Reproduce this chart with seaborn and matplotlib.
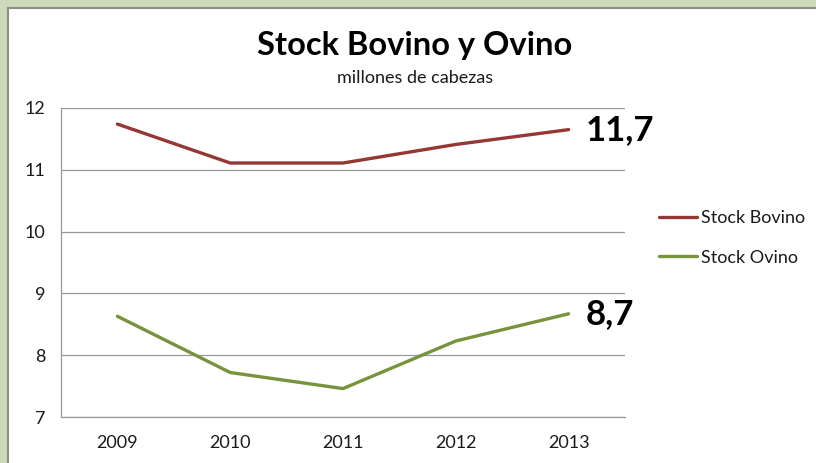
import pandas as pd
import seaborn as sns
import matplotlib.pyplot as plt
from matplotlib.patches import Rectangle

years = ['2009', '2010', '2011', '2012', '2013']
bovino = [11.74, 11.11, 11.11, 11.41, 11.65]
ovino = [8.63, 7.72, 7.46, 8.23, 8.67]
series = ['Stock Bovino', 'Stock Ovino']
colors = ['#953735', '#77933C']
end_labels = ['11,7', '8,7']

df = pd.DataFrame({
    'year': years * 2,
    'value': bovino + ovino,
    'serie': [series[0]] * len(years) + [series[1]] * len(years),
})

sns.set_style('white')
plt.rcParams['font.family'] = ['Lato', 'DejaVu Sans']

fig = plt.figure(figsize=(8.16, 4.63), dpi=100, facecolor='#cdd9b8')
# white chart frame over the green background
fig.patches.append(Rectangle((8 / 816, -0.05), 1.1, 1 - 8 / 463 + 0.05,
                             transform=fig.transFigure, facecolor='white',
                             edgecolor='#8c8c8c', linewidth=1.5, zorder=-10))

ax = fig.add_axes([61 / 816, 46 / 463, 564 / 816, 309 / 463])
ax.set_zorder(5)
ax.set_facecolor('none')
sns.lineplot(data=df, x='year', y='value', hue='serie', palette=colors,
             linewidth=2.4, ax=ax, legend=False, sort=False)

ax.set_ylim(7, 12)
ax.set_xlim(-0.5, 4.5)
ax.set_yticks(range(7, 13))
ax.grid(axis='y', color='#9a9a9a', linewidth=0.9)
ax.set_axisbelow(True)
ax.set_xlabel('')
ax.set_ylabel('')
for s in ['top', 'right']:
    ax.spines[s].set_visible(False)
for s in ['left', 'bottom']:
    ax.spines[s].set_color('#9a9a9a')
    ax.spines[s].set_linewidth(0.9)

ax.set_xticks([i - 0.5 for i in range(6)], minor=True)
ax.tick_params(axis='x', which='major', length=0, pad=13, labelsize=13, colors='#1a1a1a')
ax.tick_params(axis='x', which='minor', length=8, color='#9a9a9a', width=0.9, direction='out')
ax.tick_params(axis='y', length=5, color='#9a9a9a', width=0.9, direction='out',
               labelsize=13, colors='#1a1a1a', pad=6)

for vals, lab in zip([bovino, ovino], end_labels):
    ax.annotate(lab, xy=(4, vals[-1]), xytext=(12, 0), textcoords='offset points',
                ha='left', va='center', fontsize=25, fontweight='bold', color='black',
                annotation_clip=False)

handles = [plt.Line2D([], [], color=c, linewidth=2.4) for c in colors]
fig.legend(handles, series, loc='center left', bbox_to_anchor=(643 / 816, 1 - 238 / 463),
           frameon=False, fontsize=13, handlelength=2.1, handletextpad=0.2,
           labelspacing=1.3, labelcolor='#1a1a1a')

fig.text(415 / 816, 1 - 46 / 463, 'Stock Bovino y Ovino', ha='center', va='center',
         fontsize=23.5, fontweight='bold', color='black')
fig.text(415 / 816, 1 - 78 / 463, 'millones de cabezas', ha='center', va='center',
         fontsize=13, color='#1a1a1a')

fig.savefig('out.png', dpi=100, facecolor=fig.get_facecolor())
